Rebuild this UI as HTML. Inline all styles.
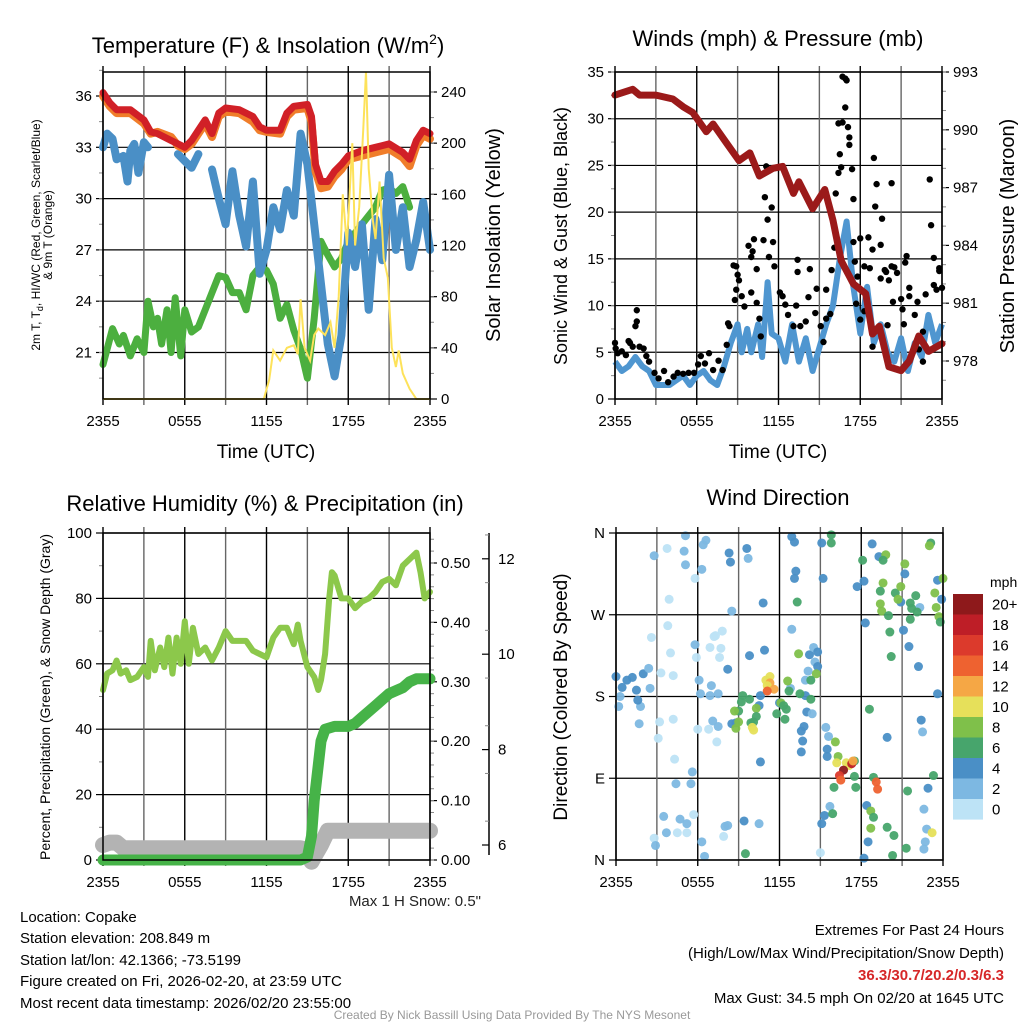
<!DOCTYPE html>
<html><head><meta charset="utf-8"><style>
html,body{margin:0;padding:0;background:#fff;}
svg{display:block;font-family:"Liberation Sans",sans-serif;}
</style></head><body>
<svg id="fig" width="1024" height="1024" viewBox="0 0 1024 1024">
<rect width="1024" height="1024" fill="#fff"/>
<g id="p1"></g>
<g id="p2"></g>
<g id="p3"></g>
<g id="p4"></g>
<g font-size="22" text-anchor="middle" fill="#000">
<text x="268" y="53">Temperature (F) &amp; Insolation (W/m<tspan font-size="14" dy="-9">2</tspan><tspan dy="9">)</tspan></text>
<text x="778" y="46">Winds (mph) &amp; Pressure (mb)</text>
<text x="265" y="511">Relative Humidity (%) &amp; Precipitation (in)</text>
<text x="778" y="505">Wind Direction</text>
</g>
<g font-size="19" text-anchor="middle">
<text x="266" y="458">Time (UTC)</text>
<text x="778" y="458">Time (UTC)</text>
</g>
<text transform="translate(40,235) rotate(-90)" font-size="12" text-anchor="middle">2m T, T<tspan font-size="9" dy="3">d</tspan><tspan dy="-3">, HI/WC (Red, Green, Scarlet/Blue)</tspan></text>
<text transform="translate(52,235) rotate(-90)" font-size="12" text-anchor="middle">&amp; 9m T (Orange)</text>
<text transform="translate(500,235) rotate(-90)" font-size="20" text-anchor="middle">Solar Insolation (Yellow)</text>
<text transform="translate(567,236) rotate(-90)" font-size="18" text-anchor="middle">Sonic Wind &amp; Gust (Blue, Black)</text>
<text transform="translate(1014,236) rotate(-90)" font-size="20" text-anchor="middle">Station Pressure (Maroon)</text>
<text transform="translate(50,697) rotate(-90)" font-size="14" text-anchor="middle">Percent, Precipitation (Green), &amp; Snow Depth (Gray)</text>
<text transform="translate(567,697) rotate(-90)" font-size="19" text-anchor="middle">Direction (Colored By Speed)</text>
<text x="481" y="906" font-size="15" text-anchor="end" fill="#222">Max 1 H Snow: 0.5"</text>
<g font-size="15" fill="#000">
<text x="20" y="922">Location: Copake</text>
<text x="20" y="943">Station elevation: 208.849 m</text>
<text x="20" y="965">Station lat/lon: 42.1366; -73.5199</text>
<text x="20" y="986">Figure created on Fri, 2026-02-20, at 23:59 UTC</text>
<text x="20" y="1008">Most recent data timestamp: 2026/02/20 23:55:00</text>
</g>
<g font-size="15" text-anchor="end">
<text x="1004" y="935">Extremes For Past 24 Hours</text>
<text x="1004" y="958">(High/Low/Max Wind/Precipitation/Snow Depth)</text>
<text x="1004" y="980" fill="#d62728" font-weight="bold">36.3/30.7/20.2/0.3/6.3</text>
<text x="1004" y="1003">Max Gust: 34.5 mph On 02/20 at 1645 UTC</text>
</g>
<text x="512" y="1019" font-size="12" fill="#999" text-anchor="middle">Created By Nick Bassill Using Data Provided By The NYS Mesonet</text>
</svg>
<script>
// ---- data ----
const timeLabels=["2355","0555","1155","1755","2355"];
const redH=[0,0.5,1,2,3,3.5,4,5,5.5,6,6.5,7,7.5,8,8.5,9,10,11,11.5,12,13,13.5,14,15,15.3,15.6,16,16.5,17,17.5,18,19,20,21,22,22.5,23,23.5,24];
const redV=[36.2,35.6,35.2,35.2,34.6,33.9,33.8,33.4,33.2,33.0,33.4,34.0,34.6,33.8,35.0,35.3,35.2,34.8,34.2,34.0,34.0,35.0,35.4,35.5,34.8,32.0,31.0,31.0,31.6,32.0,32.5,32.8,33.0,33.2,32.7,32.3,33.4,34.0,33.8];
const orangeV=[36.0,35.4,35.0,35.0,34.4,33.8,33.9,33.6,33.1,32.9,33.2,33.8,34.4,33.6,34.8,35.1,35.0,34.5,34.0,33.9,33.8,34.8,35.2,35.3,34.5,31.6,30.6,30.7,31.3,31.7,32.3,32.5,32.7,32.9,32.4,31.9,33.1,33.7,33.5];
const blueH=[0,0.3,0.7,1,1.5,1.8,2,2.3,2.6,3,3.3,3.5,5.5,6,6.5,7,7.5,8,8.5,9,9.5,10,10.5,11,11.5,12,12.5,13,13.5,14,14.5,15,15.5,16,16.5,17,17.5,18,18.5,19,19.5,20,20.5,21,21.5,22,22.5,23,23.5,24];
const blueV=[33,33.8,33.5,32.3,32.5,31.0,32.8,33.2,31.5,33.3,33.0,NaN,32.6,32.2,31.8,32.6,NaN,31.7,30,28.5,31.6,29,27.2,31,25.6,27,29.5,28.2,30.5,29.0,33.8,32.0,28.5,25,21.5,19.6,22,28,26,28.5,23.5,28.8,26.4,31.4,27,29.5,26,27.6,29.8,27];
const greenH=[0,0.3,0.7,1.2,1.5,2,2.5,3,3.3,3.7,4,4.3,4.7,5,5.3,5.7,6,6.5,7,7.5,8,8.5,9,9.5,10,10.5,11,11.5,12,12.5,13,13.5,14,14.5,15,15.5,16,16.5,17,17.5,18,18.5,19,19.5,20,20.5,21,21.5,22,22.5];
const greenV=[20.3,21.2,22.4,21.5,22.0,20.8,21.8,21.0,24,22.5,23.0,21.5,23.5,21,24.2,20.8,23.5,22.2,22.5,23.5,24.5,25.5,25.4,24.5,24.5,23.5,25.5,26,25.8,25.0,23.0,23.8,22.3,21.2,19.5,23,27.5,26.7,26.0,26.5,27.5,28,28.5,29,29.5,30.5,30.6,30.3,30.7,29.5];
const solarH=[0,11.8,12.2,12.5,13,13.5,14,14.3,14.5,14.8,15.2,15.5,15.8,16.3,16.7,17,17.3,17.6,17.9,18.3,18.5,18.8,19.1,19.3,19.5,19.8,20,20.3,20.6,20.9,21.2,21.5,21.7,22,22.5,23,24];
const solarV=[0,0,15,38,30,40,42,35,78,40,30,50,55,50,60,40,80,160,120,200,120,150,210,256,180,140,125,170,110,95,40,25,38,20,8,0,0];
const presH=[0,1.3,1.8,3,4.25,5,5.7,6.7,7.2,8.2,9.1,9.9,10.6,11.6,12.3,13.1,13.5,14.5,15.4,16,16.6,17.5,18.4,18.9,19.4,20.1,21,21.6,22.3,23,24];
const presV=[991.8,992.1,991.8,991.8,991.6,991.2,990.9,989.9,990.3,989.3,988.4,988.8,987.6,988.0,988.1,986.7,987.3,985.9,986.9,985.3,983.2,982.0,981.5,979.4,979.8,977.7,977.5,978.0,979.3,978.5,978.9];
const windH=[0,0.5,1,1.5,2,2.5,3,3.5,4,4.5,5,5.5,6,6.5,7,7.5,8,8.5,9,9.3,9.7,10,10.5,10.8,11.2,11.5,12,12.5,13,13.5,14,14.5,15,15.5,16,16.5,17,17.5,18,18.5,19,19.5,20,20.5,21,21.5,22,22.5,23,23.5,24];
const windV=[4,3,3.5,4.5,3.5,3,1.5,1.5,1.5,2,2.5,1.5,2.5,3,2,1.5,3.5,6,8,5,7.5,5,8,4.5,12.5,7,6.5,4,8,4,6.5,3,5.5,8,10,15,19,12,7,12,6,8,5,4,6.5,3,6,4.5,9,6,8];
const gustH=[0,0.05,0.2,0.5,0.8,1.0,1.1,1.3,1.6,1.6,1.5,1.8,2.1,2.3,2.5,2.9,3.2,3.6,3.9,4.3,4.6,5.0,5.4,5.8,6.1,6.3,6.6,6.9,7.2,7.6,7.9,8.2,8.3,8.4,8.7,8.9,9.0,9.1,8.9,8.8,9.3,9.5,9.8,10.0,10.2,10.1,10.4,10.0,10.4,10.6,10.7,11.0,11.1,11.2,10.9,11.3,11.5,11.6,11.7,12.1,12.3,12.5,12.7,13.1,13.3,13.4,13.4,13.6,14.0,14.2,14.3,14.8,14.7,15.1,15.3,15.5,15.5,15.8,15.9,16.1,16.2,16.4,16.5,16.6,16.4,16.7,16.7,16.9,17.0,16.9,17.1,17.2,17.2,17.4,17.5,17.5,17.6,17.8,18.0,18.3,18.6,18.7,18.9,19.0,19.2,19.1,19.5,19.6,19.5,19.8,19.9,20.1,20.3,20.3,20.5,20.7,20.4,21.0,21.1,21.3,21.4,21.6,21.6,22.0,22.2,22.6,22.8,23.1,23.2,23.4,23.4,23.6,23.8,23.8,24,18.9,19.3,20.0,21.2,22.3,22.6,18.3,17.7,18.0];
const gustV=[6,5.4,4.9,5.1,4.7,6.2,6.0,5.6,9.5,8.3,7.8,5.6,5.4,4.6,4.0,2.8,2.2,3.0,1.8,2.4,2.8,2.7,2.8,2.8,3.7,4.6,3.8,4.9,3.1,4.1,3.1,5.8,8.1,7.8,14.3,14.2,13.3,12.7,11.7,10.6,11.0,9.9,16.4,15.2,17.1,15.8,13.9,11.4,10.3,8.6,6.7,21.6,24.9,19.2,17.0,15.2,20.5,16.8,14.2,11.4,11.0,10.1,9.0,7.8,10.0,13.6,14.9,7.8,8.3,10.9,13.9,11.8,9.2,7.8,6.1,11.7,8.6,9.1,13.8,16.2,22.0,24.2,26.2,24.8,29.5,29.6,34.5,34.3,34.1,31.2,29.1,27.2,28.0,24.6,21.4,16.8,14.7,13.1,17.2,14.2,17.3,14.0,16.0,25.8,23.0,20.6,16.5,19.3,12.9,13.8,13.6,12.7,23.1,14.2,14.1,13.5,10.4,10.7,9.6,14.6,15.3,11.9,11.0,9.0,10.4,7.2,11.2,23.5,18.6,15.1,12.2,11.7,13.7,14.0,11.9,5.6,7.6,7.9,8.0,5.3,4.0,9.4,10.2,8.5];
const rhH=[0,0.3,0.7,1,1.3,1.7,2,2.5,3,3.3,3.5,3.8,4.2,4.5,4.8,5.1,5.4,5.7,6,6.3,6.6,7,7.5,8,8.5,9,9.5,10,10.5,11,11.5,12,12.5,13,13.5,14,14.3,14.5,15,15.5,15.8,16,16.3,16.6,16.8,17,17.5,18,18.5,19,19.5,20,20.5,21,21.5,22,22.5,23,23.3,23.6,24];
const rhV=[52,57,58,61,57,58,55,56,59,56,67,58,65,59,68,57,68,60,73,60,71,63,65,61,65,70,67,67,67,64,63,62,68,71,71,66,72,67,59,56,52,55,63,80,88,87,80,80,77,79,80,82,85,86,84,90,92,94,88,80,82];
const precipH=[0,14.5,15,15.3,15.5,15.8,16,16.3,17,18,18.5,19,19.5,20,20.5,21,21.5,22,22.5,23,24];
const precipV=[0,0,0.005,0.04,0.10,0.16,0.20,0.22,0.225,0.225,0.23,0.24,0.25,0.26,0.27,0.28,0.285,0.29,0.30,0.305,0.305];
const snowH=[0,0.5,1,1.5,3,6,9,12,14.5,15,15.3,15.6,16,16.5,17,20,24];
const snowV=[6.0,6.05,6.05,5.93,5.93,5.93,5.93,5.93,5.93,5.9,5.65,5.8,6.0,6.3,6.3,6.3,6.3];
const dirH=[0,0.45,0.8,1.2,1.5,2.0,2.4,2.5,0.3,0.2,1.8,1.7,1.6,2.8,3.75,3.9,3.8,2.6,4.0,4.2,3.3,3.2,3.1,4.2,4.3,4.4,2.8,2.9,3.5,3.7,4.5,4.7,5.2,5.5,5.6,5.7,5.2,6.3,6.5,5.1,5.0,5.1,5.8,6.3,6.6,6.4,5.8,5.9,6.1,6.2,6.9,6.0,6.8,7.1,7.4,7.5,7.5,7.6,7.7,6.9,7.2,7.3,7.8,8.0,8.2,7.9,7.0,8.3,8.4,9.6,9.7,8.5,8.2,8.5,8.8,9.4,9.8,10.9,10.5,10.6,10.6,10.5,12.0,12.9,13.1,13.2,13.1,12.9,12.8,13.9,14.0,14.4,13.8,13.6,13.7,13.6,14.2,14.5,14.8,14.6,14.1,13.9,15.1,15.2,15.4,15.6,15.5,15.5,15.7,15.3,15.1,15.0,18.2,18.8,18.2,17.7,18.3,19.3,19.9,18.4,18.5,21.2,21.1,21.5,22.2,20.9,23.6,22.9,23.6,23.9,22.4,22.5,22.6,22.7,22.8,22.6,22.3,10.8,13.3,15.8,15.8,18.1,19.8,19.6,19.6,19.4,19.4,19.5,20.0,20.1,20.2,20.5,20.7,20.9,21.2,21.6,21.7,21.6,22.0,22.1,23.1,23.0,23.4,23.5,23.7,23.8,24,13.4,14.8,14.7,14.3,13.5,14.3,12.6,12.7,12.1,12.3,12.5,11.8,12.4,9.3,9.2,9.0,8.7,8.8,9.0,10.3,10.3,9.9,16.1,16.3,17.5,17.5,17.6,16.0,15.9,18.6,18.7,18.9,18.7,18.9,19.9,20.4,20.3,21.4,21.3,23.3,9.5,9.8,10.1,10.0,10.1,11.0,11.3,11.3,11.1,11.6,11.1,16.2,16.9,17.1,16.7,17.3,16.4,16.5,19.1,19.2,23.2,17.4];
const dirDeg=[202,190,198,201,187,205,211,189,180,169,169,150,176,335,343,287,258,245,228,203,206,152,134,155,111,84,24,16,48,30,30,45,40,84,97,50,30,20,4,357,340,325,310,320,352,347,237,223,198,183,181,144,144,153,130,147,183,223,233,234,246,247,252,37,38,26,192,338,328,343,332,274,210,150,151,43,225,231,170,181,108,40,173,356,350,318,310,254,189,181,163,161,147,142,131,119,226,234,229,218,208,198,349,310,146,136,122,114,59,49,40,8,2,348,307,301,261,334,135,60,20,315,253,235,213,284,183,79,308,287,154,141,56,20,34,12,278,283,284,358,349,330,336,330,305,296,282,274,269,251,224,294,287,301,326,283,277,265,291,273,349,346,294,278,268,262,310,227,213,205,198,183,177,197,186,173,170,166,161,155,181,174,164,164,145,152,167,158,151,130,114,109,92,80,80,51,166,54,47,35,91,36,27,5,76,13,93,7,177,152,146,143,198,202,195,192,188,186,107,107,104,99,106,93,88,86,78,30,109];
const dirSpd=[5,4,5,5,5,5,3,3,3,3,3,3,5,3,1,1,1,1,1,1,1,1,1,1,1,3,1,3,3,3,1,3,3,3,3,1,1,3,3,3,3,3,1,3,3,3,3,1,3,3,3,1,1,3,1,3,3,1,1,1,1,1,1,3,3,1,3,5,5,5,3,3,5,5,5,5,5,5,5,5,5,3,5,5,5,5,5,3,3,5,5,3,5,5,5,5,5,3,5,3,3,3,5,5,3,3,5,5,3,5,5,1,5,5,5,5,5,5,5,5,5,5,5,5,5,5,5,5,5,5,5,3,3,3,3,3,3,5,7,7,7,7,9,7,9,7,9,9,7,7,7,7,9,9,9,7,7,7,7,7,7,9,9,9,9,7,9,9,5,9,7,7,7,9,7,9,7,7,7,7,7,7,7,9,9,9,9,7,7,9,9,7,7,7,7,7,7,9,7,9,7,7,7,7,7,7,7,7,7,7,11,11,11,11,13,11,13,15,11,11,11,21,19,17,15,15,15,11,13,11,9];
const speedLabels=["20+","18","16","14","12","10","8","6","4","2","0"];
const speedColors=["#8e191b","#be1e27","#dc3a2c","#ee6230","#f5a745","#e6e05a","#7fc04a","#47a56c","#4a8fc6","#7db8e2","#bde3f6"];

// ---- helpers ----
const NS="http://www.w3.org/2000/svg";
function mk(parent,tag,attrs){const e=document.createElementNS(NS,tag);for(const k in attrs)e.setAttribute(k,attrs[k]);parent.appendChild(e);return e;}
function pathD(H,V,fx,fy){let d="",pen=false;for(let i=0;i<H.length;i++){if(isNaN(V[i])){pen=false;continue;}d+=(pen?"L":"M")+fx(H[i]).toFixed(1)+","+fy(V[i]).toFixed(1);pen=true;}return d;}
const W=327;
function xs(x0){return h=>x0+h*W/24;}

function frame(g,x0,y0,y1,name){
  for(let h=0;h<=24;h+=3){const x=x0+h*W/24;
    const l=mk(g,"line",{x1:x,x2:x,y1:y0-6,y2:y1+6,stroke:(h%6==0?"#000":"#666"),"stroke-width":1.4});
    
    }
  timeLabels.forEach((t,i)=>{const tx=mk(g,"text",{x:x0+i*W/4,y:y1+27,"font-size":15,"text-anchor":"middle"});tx.textContent=t;
    
    });
}
function border(g,x0,y0,y1){const r=mk(g,"rect",{x:x0,y:y0,width:W,height:y1-y0,fill:"none",stroke:"#000","stroke-width":1.5});
  
  }
function leftAxis(g,x0,x1,fy,majors,labels,minors,name,grid,side){
  majors.forEach((v,i)=>{const y=fy(v);
    if(grid){const gl=mk(g,"line",{x1:x0,x2:x1,y1:y,y2:y,stroke:"#000","stroke-width":1.2});
      
      }
    const ax=side=="l"?x0:x1, dir=side=="l"?-1:1;
    const tk=mk(g,"line",{x1:ax,x2:ax+dir*7,y1:y,y2:y,stroke:"#000","stroke-width":1.2});
    
    
    const t=mk(g,"text",{x:ax+dir*11,y:y+5,"font-size":15,"text-anchor":side=="l"?"end":"start"});t.textContent=labels[i];
    
    });
  minors.forEach(v=>{const y=fy(v);const ax=side=="l"?x0:x1, dir=side=="l"?-1:1;
    const tk=mk(g,"line",{x1:ax,x2:ax+dir*4,y1:y,y2:y,stroke:"#888","stroke-width":1});
    
    });
}
function range(a,b,s){const r=[];for(let v=a;v<=b+1e-9;v+=s)r.push(+v.toFixed(4));return r;}

// ---- Panel 1 ----
(function(){const g=document.getElementById("p1");const x0=103,y0=72,y1=399;const fx=xs(x0);
  const fT=t=>96+(36-t)*17.1, fS=s=>399-s*307/240;
  leftAxis(g,x0,x0+W,fT,[21,24,27,30,33,36],["21","24","27","30","33","36"],range(19.5,37.5,1.5),"temp",true,"l");
  leftAxis(g,x0,x0+W,fS,[0,40,80,120,160,200,240],["0","40","80","120","160","200","240"],range(20,240,20),"solar",false,"r");
  frame(g,x0,y0,y1,"temp");
  const series=[[greenH,greenV,"#4caf3f",7,"green-temp-line"],[blueH,blueV,"#4a8fc6",8,"blue-temp-line"],[redH,orangeV,"#f07d2a",8,"orange-temp-line"],[redH,redV,"#d12027",7,"red-temp-line"]];
  series.forEach(s=>{const p=mk(g,"path",{d:pathD(s[0],s[1],fx,fT),fill:"none",stroke:s[2],"stroke-width":s[3],"stroke-linejoin":"round","stroke-linecap":"round"});
    
    });
  const sp=mk(g,"path",{d:pathD(solarH,solarV,fx,fS),fill:"none",stroke:"#fde25a","stroke-width":2});
  
  
  border(g,x0,y0,y1);
})();

// ---- Panel 2 ----
(function(){const g=document.getElementById("p2");const x0=615,y0=72,y1=399;const fx=xs(x0);
  const fW=m=>399-m*327/35, fP=p=>72+(993-p)*(289/15);
  leftAxis(g,x0,x0+W,fW,range(0,35,5),range(0,35,5).map(String),range(2.5,35,2.5),"wind",true,"l");
  leftAxis(g,x0,x0+W,fP,[978,981,984,987,990,993],["978","981","984","987","990","993"],range(977,993,1),"pressure",false,"r");
  frame(g,x0,y0,y1,"wind");
  const wl=mk(g,"path",{d:pathD(windH,windV,fx,fW),fill:"none",stroke:"#4f96d0","stroke-width":6,"stroke-linejoin":"round"});
  
  
  gustH.forEach((h,i)=>{const c=mk(g,"circle",{cx:fx(h),cy:fW(gustV[i]),r:3.2,fill:"#000"});
    
    });
  const pl=mk(g,"path",{d:pathD(presH,presV,fx,fP),fill:"none",stroke:"#9b1a1a","stroke-width":7,"stroke-linejoin":"round","stroke-linecap":"round"});
  
  
  border(g,x0,y0,y1);
})();

// ---- Panel 3 ----
(function(){const g=document.getElementById("p3");const x0=103,y0=533,y1=860;const fx=xs(x0);
  const fR=r=>860-r*3.27, fPr=p=>860-p*594, fSn=s=>845-(s-6)*47.7;
  leftAxis(g,x0,x0+W,fR,range(0,100,20),range(0,100,20).map(String),range(10,90,20),"rh",true,"l");
  leftAxis(g,x0,x0+W,fPr,range(0,0.5,0.1),["0.00","0.10","0.20","0.30","0.40","0.50"],range(0,0.54,0.02),"precip",false,"r");
  const sa=mk(g,"line",{x1:489,x2:489,y1:533,y2:855,stroke:"#000","stroke-width":1.5});
  
  
  [6,8,10,12].forEach(v=>{const y=fSn(v);const t=mk(g,"line",{x1:489,x2:482,y1:y,y2:y,stroke:"#000","stroke-width":1.2});
    
    
    const tx=mk(g,"text",{x:498,y:y+5,"font-size":15});tx.textContent=v;
    
    });
  range(6.5,12.5,1).forEach(v=>{const y=fSn(v);if(y<533)return;const t=mk(g,"line",{x1:489,x2:485,y1:y,y2:y,stroke:"#888","stroke-width":1});
    
    });
  frame(g,x0,y0,y1,"rh");
  const rl=mk(g,"path",{d:pathD(rhH,rhV,fx,fR),fill:"none",stroke:"#8cc84b","stroke-width":6,"stroke-linejoin":"round","stroke-linecap":"round"});
  
  
  const sl=mk(g,"path",{d:pathD(snowH,snowV,fx,fSn),fill:"none",stroke:"#b3b3b3","stroke-width":16,"stroke-linejoin":"round","stroke-linecap":"round"});
  
  
  const pp=mk(g,"path",{d:pathD(precipH,precipV,fx,fPr),fill:"none",stroke:"#46b348","stroke-width":11,"stroke-linejoin":"round","stroke-linecap":"round"});
  
  
  border(g,x0,y0,y1);
})();

// ---- Panel 4 ----
(function(){const g=document.getElementById("p4");const x0=616,y0=533,y1=860;const fx=xs(x0);
  const fD=d=>860-d*327/360;
  leftAxis(g,x0,x0+W,fD,[0,90,180,270,360],["N","E","S","W","N"],[],"direction",true,"l");
  frame(g,x0,y0,y1,"direction");
  dirH.forEach((h,i)=>{const b=Math.min(10,Math.floor(dirSpd[i]/2));
    const c=mk(g,"circle",{cx:fx(h),cy:fD(dirDeg[i]),r:4.5,fill:speedColors[10-b],"fill-opacity":0.95});
    
    });
  border(g,x0,y0,y1);
  const t=mk(g,"text",{x:990,y:587,"font-size":14});t.textContent="mph";
  
  
  speedLabels.forEach((lab,i)=>{const y=594+i*20.5;
    const r=mk(g,"rect",{x:953,y:y,width:30,height:20.6,fill:speedColors[i]});
    
    
    const tx=mk(g,"text",{x:992,y:y+15.5,"font-size":15});tx.textContent=lab;
    
    });
})();
</script>
</body></html>
